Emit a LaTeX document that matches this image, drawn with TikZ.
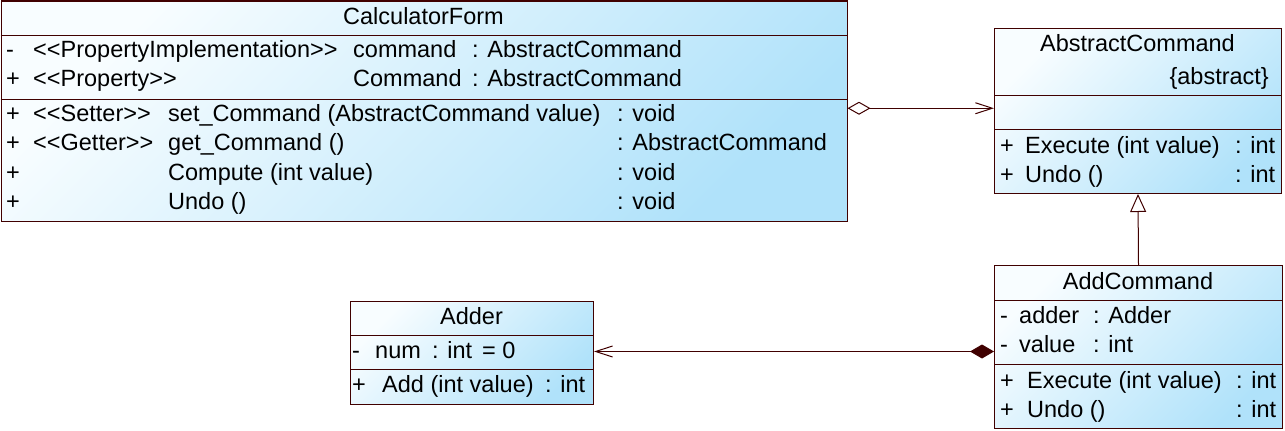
\documentclass[tikz,border=0pt]{standalone}
\usepackage{fontspec}
\setmainfont{Liberation Sans}
\usepackage{tikz}
\usetikzlibrary{arrows.meta}
\usetikzlibrary{calc}

\definecolor{umlline}{RGB}{64,0,0}
\definecolor{umlfill}{RGB}{176,226,250}
\definecolor{umllight}{RGB}{248,253,255}

\newcommand{\stin}{<\kern0pt<}
\newcommand{\stout}{>\kern0pt>}

\tikzset{
  classbox/.style={draw=umlline, line width=1pt, anchor=north west, inner sep=0pt,
    top color=umllight, bottom color=umlfill, shading angle=45},
  sepline/.style={draw=umlline, line width=1pt},
  link/.style={draw=umlline, line width=1pt},
  member/.style={anchor=base west, inner sep=0pt},
  classname/.style={anchor=base, inner sep=0pt}
}

\begin{document}
\begin{tikzpicture}[x=1pt, y=-1pt, font=\fontsize{23.5}{27}\selectfont]
        \useasboundingbox (0,0) rectangle (1285,431);

        % class boxes
        \node[classbox, minimum width=846pt, minimum height=220.5pt] (calc) at (0.5,0.5) {};
        \node[classbox, minimum width=287pt, minimum height=165pt] (abs) at (994,28) {};
        \node[classbox, minimum width=288pt, minimum height=163pt] (add) at (994,265) {};
        \node[classbox, minimum width=243pt, minimum height=103pt] (adder) at (350,301) {};

        \draw[sepline] (calc.west |- 0,35) -- (calc.east |- 0,35);
        \draw[sepline] (calc.west |- 0,99) -- (calc.east |- 0,99);
        \draw[sepline] (abs.west |- 0,95) -- (abs.east |- 0,95);
        \draw[sepline] (abs.west |- 0,129) -- (abs.east |- 0,129);
        \draw[sepline] (add.west |- 0,300) -- (add.east |- 0,300);
        \draw[sepline] (add.west |- 0,364) -- (add.east |- 0,364);
        \draw[sepline] (adder.west |- 0,335) -- (adder.east |- 0,335);
        \draw[sepline] (adder.west |- 0,369) -- (adder.east |- 0,369);

        % CalculatorForm
        \node[classname] (cf-name) at (423.5,24) {CalculatorForm};
        \node[member] (cf-v1) at (6,57) {-};
        \node[member] (cf-s1) at (33,57) {\stin PropertyImplementation\stout};
        \node[member] (cf-n1) at (353,57) {command};
        \node[member] (cf-t1) at (472,57) {: AbstractCommand};
        \node[member] (cf-v2) at (6,86) {+};
        \node[member] (cf-s2) at (33,86) {\stin Property\stout};
        \node[member] (cf-n2) at (353,86) {Command};
        \node[member] (cf-t2) at (472,86) {: AbstractCommand};
        \node[member] (cf-v3) at (6,121) {+};
        \node[member] (cf-s3) at (33,121) {\stin Setter\stout};
        \node[member] (cf-n3) at (168,121) {set\_Command (AbstractCommand value)};
        \node[member] (cf-t3) at (617,121) {: void};
        \node[member] (cf-v4) at (6,150) {+};
        \node[member] (cf-s4) at (33,150) {\stin Getter\stout};
        \node[member] (cf-n4) at (168,150) {get\_Command ()};
        \node[member] (cf-t4) at (617,150) {: AbstractCommand};
        \node[member] (cf-v5) at (6,180) {+};
        \node[member] (cf-n5) at (168,180) {Compute (int value)};
        \node[member] (cf-t5) at (617,180) {: void};
        \node[member] (cf-v6) at (6,209) {+};
        \node[member] (cf-n6) at (168,209) {Undo ()};
        \node[member] (cf-t6) at (617,209) {: void};

        % AbstractCommand
        \node[classname] (ac-name) at (1137.5,51.5) {AbstractCommand};
        \node[anchor=base east, inner sep=0pt] (ac-abs) at (1269,84) {\{abstract\}};
        \node[member] (ac-v1) at (1000,153) {+};
        \node[member] (ac-n1) at (1025,153) {Execute (int value)};
        \node[member] (ac-t1) at (1235,153) {: int};
        \node[member] (ac-v2) at (1000,182) {+};
        \node[member] (ac-n2) at (1025,182) {Undo ()};
        \node[member] (ac-t2) at (1235,182) {: int};

        % AddCommand
        \node[classname] (ad-name) at (1138,289) {AddCommand};
        \node[member] (ad-v1) at (1000,323) {-};
        \node[member] (ad-n1) at (1019,323) {adder};
        \node[member] (ad-t1) at (1093,323) {: Adder};
        \node[member] (ad-v2) at (1000,352) {-};
        \node[member] (ad-n2) at (1019,352) {value};
        \node[member] (ad-t2) at (1093,352) {: int};
        \node[member] (ad-v3) at (1000,388) {+};
        \node[member] (ad-n3) at (1027,388) {Execute (int value)};
        \node[member] (ad-t3) at (1236,388) {: int};
        \node[member] (ad-v4) at (1000,417) {+};
        \node[member] (ad-n4) at (1027,417) {Undo ()};
        \node[member] (ad-t4) at (1236,417) {: int};

        % Adder
        \node[classname] (ar-name) at (471.5,324) {Adder};
        \node[member] (ar-v1) at (352,358) {-};
        \node[member] (ar-n1) at (375,358) {num};
        \node[member] (ar-t1) at (432,358) {: int};
        \node[member] (ar-d1) at (482,358) {= 0};
        \node[member] (ar-v2) at (352,392) {+};
        \node[member] (ar-n2) at (382,392) {Add (int value)};
        \node[member] (ar-t2) at (545,392) {: int};

        % relations
        \draw[link, {Diamond[open,length=23pt,width=13pt]}-{Straight Barb[length=17pt,width=11pt]}]
            ([yshift=3pt]calc.east) -- ([yshift=3pt]calc.east -| abs.west);
        \draw[link, -{Triangle[open,length=18pt,width=16pt]}] (add.north) -- (abs.south);
        \draw[link, {Straight Barb[length=17pt,width=11pt]}-{Diamond[length=24pt,width=14pt]}]
            ([yshift=1.5pt]adder.east) -- ([yshift=1.5pt]adder.east -| add.west);

    \end{tikzpicture}
\end{document}
